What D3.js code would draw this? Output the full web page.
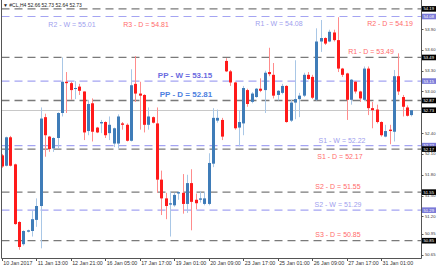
<!DOCTYPE html>
<html>
<head>
<meta charset="utf-8">
<script src="https://cdn.jsdelivr.net/npm/d3@7"></script>
<style>
body { margin: 0; background: #fff; }
svg { display: block; font-family: "Liberation Sans", Arial, sans-serif; }
</style>
</head>
<body>
<svg id="chart" width="443" height="269"></svg>
<script>
// CL H4 candles, 10 Jan - 31 Jan 2017
var opens  = [52.08,51.93,52.34,51.95,51.12,50.80,50.98,50.99,51.15,51.35,52.63,52.35,52.18,52.33,52.69,53.14,53.12,53.04,53.07,53.00,
              52.43,52.83,52.48,52.54,52.56,52.40,52.25,52.25,52.54,52.52,52.29,53.11,52.97,52.95,52.52,52.63,52.54,51.73,51.46,51.37,
              51.36,51.53,51.54,51.38,51.68,51.44,51.44,51.38,51.38,51.96,52.58,52.59,53.44,53.29,53.13,52.48,52.54,53.02,52.85,52.92,
              53.04,53.02,53.28,53.24,52.95,52.98,53.08,52.58,52.84,52.89,52.94,53.24,53.21,52.88,53.72,53.77,53.72,53.85,53.74,53.33,
              53.26,52.88,53.14,53.00,52.88,53.33,52.76,52.74,52.56,52.35,52.45,52.42,53.22,52.92,52.77,52.66];
var highs  = [52.10,52.35,52.36,51.96,51.13,51.00,51.01,51.29,51.46,52.77,52.68,52.36,52.34,52.70,53.49,53.28,53.14,53.15,53.11,53.00,
              52.88,52.90,52.49,52.59,52.57,52.64,52.48,52.67,52.56,52.54,53.32,53.51,53.14,52.96,52.77,52.64,52.77,51.86,51.54,51.56,
              51.54,51.56,51.81,51.80,51.88,51.53,51.56,51.55,52.11,52.76,52.74,52.62,53.48,53.31,53.14,52.73,53.08,53.04,52.99,53.05,
              53.19,53.30,53.63,53.41,53.02,53.11,53.09,52.88,53.45,52.98,53.27,53.28,53.24,53.91,54.03,53.78,53.89,53.89,54.07,53.34,
              53.27,53.18,53.15,53.01,53.36,53.36,52.85,52.81,52.57,52.52,52.52,53.31,53.55,52.95,52.80,52.73];
var lows   = [51.90,51.92,51.92,51.08,50.72,50.78,50.97,50.91,51.05,50.74,52.06,52.13,52.13,52.18,52.64,52.69,52.88,52.89,52.95,52.30,
              52.37,52.28,52.40,52.40,52.33,52.30,52.20,52.18,52.45,52.28,52.28,52.85,52.45,52.41,52.45,52.54,51.54,51.22,51.16,50.91,
              51.34,51.44,51.24,51.25,51.00,51.30,51.40,51.36,51.36,51.91,52.55,52.30,53.28,53.08,52.45,52.21,52.37,52.78,52.83,52.91,
              52.99,52.69,53.22,52.90,52.87,52.96,52.55,52.56,52.60,52.63,52.92,53.17,52.89,52.87,53.57,53.67,53.71,53.72,53.28,53.21,
              52.59,52.81,52.97,52.85,52.86,52.66,52.47,52.54,52.35,52.34,52.24,52.28,52.95,52.64,52.64,52.64];
var closes = [51.92,52.34,51.93,51.09,50.76,50.99,51.00,51.16,51.35,52.61,52.37,52.17,52.33,52.69,53.14,53.12,53.02,53.05,53.01,52.41,
              52.82,52.42,52.41,52.56,52.37,52.52,52.47,52.64,52.52,52.29,53.09,52.97,52.94,52.52,52.64,52.55,51.73,51.46,51.35,51.39,
              51.51,51.55,51.38,51.68,51.41,51.39,51.46,51.46,51.97,52.62,52.62,52.35,53.29,53.13,52.47,52.56,53.05,52.82,52.97,53.04,
              53.01,53.27,53.25,52.94,53.01,53.08,52.56,52.84,52.89,52.94,53.24,53.18,52.91,53.72,53.77,53.69,53.86,53.74,53.33,53.24,
              52.88,53.17,53.00,52.90,53.33,52.76,52.73,52.56,52.37,52.43,52.43,53.22,53.00,52.78,52.65,52.73];

// x axis labels every 8 bars
var dateIdx    = [0, 8, 16, 24, 32, 40, 48, 56, 64, 72, 80, 88];
var dateLabels = ["10 Jan 2017", "11 Jan 13:00", "12 Jan 21:00", "16 Jan 05:00", "17 Jan 17:00", "19 Jan 01:00",
                  "20 Jan 09:00", "23 Jan 17:00", "25 Jan 01:00", "26 Jan 09:00", "27 Jan 17:00", "31 Jan 01:00"];

// price scale labels (52.70 sits under the last-price box)
var priceTicks = [53.90, 53.60, 53.30, 53.00, 52.40, 52.10, 51.80, 51.50, 51.20, 50.95, 50.65];

// pivot levels (daily / weekly)
var levelNames  = ["R2 - W", "R3 - D", "R1 - W", "R2 - D", "R1 - D", "PP - W", "PP - D", "S1 - W", "S1 - D", "S2 - D", "S2 - W", "S3 - D"];
var levelText   = ["55.01", "54.81", "54.08", "54.19", "53.49", "53.15", "52.81", "52.22", "52.17", "51.55", "51.29", "50.85"];
var levelValues = [55.01, 54.81, 54.08, 54.19, 53.49, 53.15, 52.87, 52.22, 52.17, 51.55, 51.29, 50.85];
var levelKind   = ["W", "D", "W", "D", "D", "W", "D", "W", "D", "D", "W", "D"];

var lastPrice = 52.73;

// label placement (center x, baseline y)
var labelPos = [[72,27],[146,27],[279,26],[390,26],[371,54],[185,78],[186,97],[342,143],[340,159],[338,189],[338,207],[338,237]];

var svg = d3.select("#chart");
var plotL = 1.5, plotR = 421, plotT = 0, plotB = 258;

var x = d3.scaleLinear().domain([0, opens.length - 1]).range([1.7, 411.3]);
var y = d3.scaleLinear().domain([50.601, 54.318]).range([plotB, plotT]);

svg.append("clipPath").attr("id", "plot")
  .append("rect").attr("x", plotL).attr("y", plotT).attr("width", plotR - plotL).attr("height", plotB - plotT);

var plot = svg.append("g").attr("clip-path", "url(#plot)");

// current price line
plot.append("line")
    .attr("x1", plotL).attr("x2", plotR)
    .attr("y1", Math.round(y(lastPrice)) + 0.5).attr("y2", Math.round(y(lastPrice)) + 0.5)
    .attr("stroke", "#c8c8c8").attr("stroke-width", 1);

// pivot lines
plot.selectAll(".lvl")
  .data(levelValues)
  .enter().append("line")
    .attr("x1", plotL).attr("x2", plotR)
    .attr("y1", function(d) { return y(d); })
    .attr("y2", function(d) { return y(d); })
    .attr("stroke", function(d, i) { return levelKind[i] == "D" ? "#7a7a7a" : "#a4a4f2"; })
    .attr("stroke-width", function(d, i) { return levelKind[i] == "D" ? 1.3 : 1.2; })
    .attr("stroke-dasharray", "8,5");

// candles
var idx = d3.range(opens.length);
var up = function(i) { return closes[i] >= opens[i]; };

plot.selectAll(".wick")
  .data(idx)
  .enter().append("line")
    .attr("x1", function(i) { return Math.round(x(i)) + 0.5; })
    .attr("x2", function(i) { return Math.round(x(i)) + 0.5; })
    .attr("y1", function(i) { return y(highs[i]); })
    .attr("y2", function(i) { return y(lows[i]); })
    .attr("stroke", function(i) { return up(i) ? "#a9c7e6" : "#ff8c8c"; })
    .attr("stroke-width", 1);

plot.selectAll(".body")
  .data(idx)
  .enter().append("rect")
    .attr("x", function(i) { return Math.round(x(i)) - 1; })
    .attr("width", 3)
    .attr("y", function(i) { return y(Math.max(opens[i], closes[i])); })
    .attr("height", function(i) { return Math.max(1, Math.abs(y(opens[i]) - y(closes[i]))); })
    .attr("fill", function(i) { return up(i) ? "#3f7cb8" : "#ff1a1a"; });

// pivot labels
svg.selectAll(".lbl")
  .data(levelNames)
  .enter().append("text")
    .attr("x", function(d, i) { return labelPos[i][0]; })
    .attr("y", function(d, i) { return labelPos[i][1]; })
    .attr("text-anchor", "middle")
    .attr("font-size", function(d) { return d.indexOf("PP") == 0 ? "8px" : "7px"; })
    .attr("font-weight", function(d) { return d.indexOf("PP") == 0 ? "bold" : "normal"; })
    .attr("fill", function(d, i) {
      if (d == "PP - W") return "#6b6be0";
      if (d == "PP - D") return "#4d7fe0";
      return levelKind[i] == "D" ? "#ff6b6b" : "#a0a0ee";
    })
    .text(function(d, i) { return d + " = " + levelText[i]; });

// frame
svg.append("path")
    .attr("d", "M" + plotL + "," + plotT + "V" + (plotB + 0.5) + "H" + (plotR + 0.5) + "V" + plotT)
    .attr("fill", "none").attr("stroke", "#555").attr("stroke-width", 1);

// price axis
var yAxis = svg.append("g");
yAxis.selectAll(".tk")
  .data(priceTicks)
  .enter().append("line")
    .attr("x1", plotR + 0.5).attr("x2", plotR + 2.5)
    .attr("y1", function(d) { return Math.round(y(d)) + 0.5; })
    .attr("y2", function(d) { return Math.round(y(d)) + 0.5; })
    .attr("stroke", "#555");
yAxis.selectAll(".tl")
  .data(priceTicks)
  .enter().append("text")
    .attr("x", plotR + 4).attr("y", function(d) { return y(d) + 1.5; })
    .attr("font-size", "4.2px").attr("fill", "#333")
    .text(function(d) { return d.toFixed(2); });

// level boxes on the axis
var boxVals = levelValues.filter(function(d) { return d < 54.3; }).concat([lastPrice]);
var boxKind = levelKind.filter(function(d, i) { return levelValues[i] < 54.3; }).concat(["D"]);
var boxes = yAxis.selectAll(".box")
  .data(boxVals)
  .enter().append("g")
    .attr("transform", function(d) { return "translate(" + (plotR + 1) + "," + y(d) + ")"; });
boxes.append("rect")
    .attr("x", 0).attr("y", -2.8).attr("width", 14).attr("height", 5.6)
    .attr("fill", function(d, i) { return boxKind[i] == "D" ? "#000" : "#7a7ad8"; });
boxes.append("text")
    .attr("x", 1.5).attr("y", 1.5)
    .attr("font-size", "4.2px").attr("fill", "#fff")
    .text(function(d, i) { return d.toFixed(2); });

// time axis
var xAxis = svg.append("g");
xAxis.selectAll(".xt")
  .data(dateIdx)
  .enter().append("line")
    .attr("x1", function(d) { return Math.round(x(d)) + 0.5; })
    .attr("x2", function(d) { return Math.round(x(d)) + 0.5; })
    .attr("y1", plotB).attr("y2", plotB + 3)
    .attr("stroke", "#555");
xAxis.selectAll(".xl")
  .data(dateIdx)
  .enter().append("text")
    .attr("x", function(d) { return x(d) + 1.5; })
    .attr("y", 264.5)
    .attr("font-size", "5.3px").attr("fill", "#333")
    .text(function(d, i) { return dateLabels[i]; });

// header
svg.append("text")
    .attr("x", 3).attr("y", 7)
    .attr("font-size", "5px").attr("fill", "#222")
    .text("\u25BC #CL,H4  52.66 52.73 52.64 52.73");
</script>
</body>
</html>
